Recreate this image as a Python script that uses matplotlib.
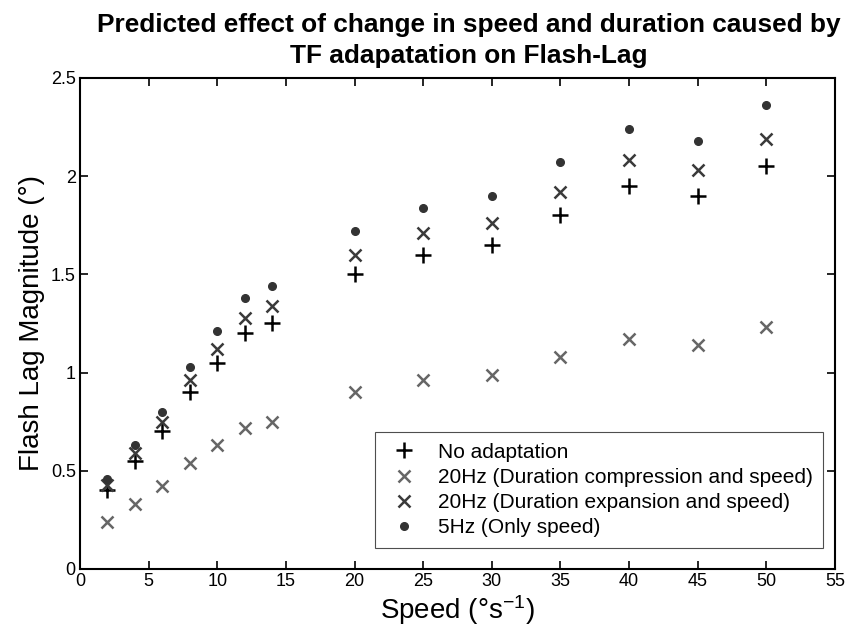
import matplotlib
matplotlib.use("Agg")
import matplotlib.pyplot as plt

plt.rcParams['font.family'] = ['Liberation Sans', 'DejaVu Sans']
plt.rcParams['mathtext.default'] = 'regular'

speed = [2, 4, 6, 8, 10, 12, 14, 20, 25, 30, 35, 40, 45, 50]
no_adapt = [0.40, 0.55, 0.70, 0.90, 1.05, 1.20, 1.25, 1.50, 1.60, 1.65, 1.80, 1.95, 1.90, 2.05]
compression = [0.24, 0.33, 0.42, 0.54, 0.63, 0.72, 0.75, 0.90, 0.96, 0.99, 1.08, 1.17, 1.14, 1.23]
expansion = [0.43, 0.59, 0.75, 0.96, 1.12, 1.28, 1.34, 1.60, 1.71, 1.76, 1.92, 2.08, 2.03, 2.19]
only_speed = [0.46, 0.63, 0.80, 1.03, 1.21, 1.38, 1.44, 1.72, 1.84, 1.90, 2.07, 2.24, 2.18, 2.36]

fig = plt.figure(figsize=(8.49, 6.37), dpi=100)
ax = fig.add_axes([0.0942, 0.1068, 0.8893, 0.7708])

ax.plot(speed, no_adapt, '+', color='black', markersize=12, markeredgewidth=1.8,
        label='No adaptation')
ax.plot(speed, compression, 'x', color='#666666', markersize=8.5, markeredgewidth=1.8,
        label='20Hz (Duration compression and speed)')
ax.plot(speed, expansion, 'x', color='#3a3a3a', markersize=8.5, markeredgewidth=1.8,
        label='20Hz (Duration expansion and speed)')
ax.plot(speed, only_speed, 'o', color='#333333', markersize=5.5,
        label='5Hz (Only speed)')

ax.set_xlim(0, 55)
ax.set_ylim(0, 2.5)
ax.set_xticks(range(0, 56, 5))
ax.set_yticks([0, 0.5, 1, 1.5, 2, 2.5])
ax.set_yticklabels(['0', '0.5', '1', '1.5', '2', '2.5'])
ax.tick_params(direction='in', top=True, right=True, length=6, width=1.2,
               labelsize=13, pad=3)
for s in ax.spines.values():
    s.set_linewidth(1.5)

ax.set_xlabel('Speed (°s$^{-1}$)', fontsize=20, labelpad=2)
ax.set_ylabel('Flash Lag Magnitude (°)', fontsize=20, labelpad=4)
ax.set_title('Predicted effect of change in speed and duration caused by\nTF adapatation on Flash-Lag',
             fontsize=18.9, fontweight='bold', pad=11, linespacing=1.35, x=0.515)

leg = ax.legend(loc='lower right', bbox_to_anchor=(0.984, 0.043), borderaxespad=0,
                fontsize=15, frameon=True, fancybox=False, edgecolor='#222222',
                handletextpad=0.7, borderpad=0.5, labelspacing=0.3,
                handlelength=1.8)
leg.get_frame().set_linewidth(0.8)

fig.savefig('out.png', dpi=100)
